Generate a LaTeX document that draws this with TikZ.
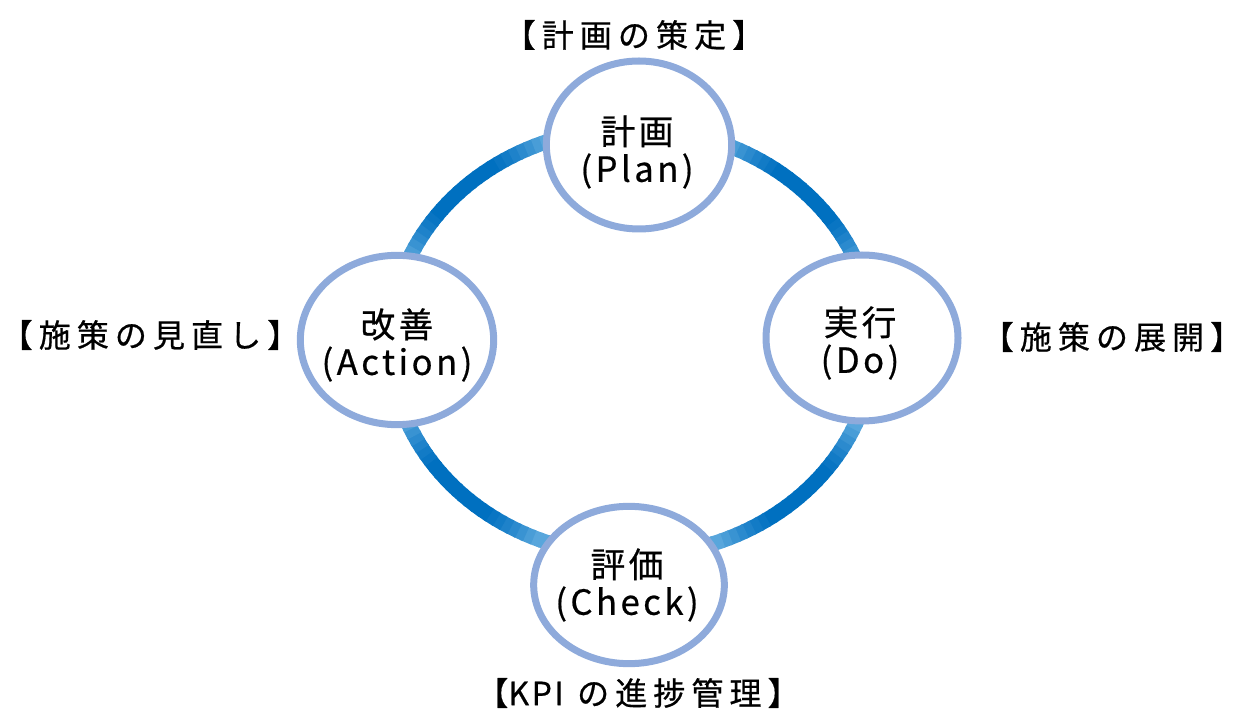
\documentclass[tikz,border=0pt]{standalone}
\usepackage{fontspec}
\newfontfamily\cjkin[LetterSpace=10,FakeBold=0.6]{Noto Sans CJK JP}
\newfontfamily\cjkout[LetterSpace=19,FakeBold=0.6]{Noto Sans CJK JP}
\newfontfamily\cjkplain[LetterSpace=8,FakeBold=0.6]{Noto Sans CJK JP}
\usetikzlibrary{shapes.geometric}
\definecolor{ringdark}{RGB}{0,112,192}
\definecolor{ringlight}{RGB}{88,166,220}
\definecolor{phaseline}{RGB}{142,170,219}
\begin{document}
\begin{tikzpicture}[x=0.75pt,y=-0.75pt,
  phase/.style={ellipse, draw=phaseline, line width=5.25pt, fill=white, inner sep=0pt},
  phasetext/.style={align=center, font=\cjkin\fontsize{26}{28}\selectfont, inner sep=0pt},
  stage/.style={font=\cjkout\fontsize{24}{28}\selectfont, inner sep=0pt},
  ringseg/.style={line width=11.25pt}]
\useasboundingbox (0,0) rectangle (1241,712);
\coordinate (ring) at (632,342);
\foreach \a in {0,2,...,358}{
  \pgfmathtruncatemacro\m{max(0,min(100,(abs(sin(2*\a))-0.7)*400))}
  \draw[ringseg, draw=ringdark!\m!ringlight] plot[domain=\a:\a+2.6, samples=4] ({632+242*cos(\x)},{342+214*sin(\x)});
}
\node[phase, minimum width=139pt, minimum height=126pt] (plan) at (639,145) {};
\node[phasetext] (planT) at (637,152) {計画\\(Plan)};
\node[phase, minimum width=144pt, minimum height=124.5pt] (do) at (862,338) {};
\node[phasetext] (doT) at (860,343) {実行\\(Do)};
\node[phase, minimum width=145pt, minimum height=127pt] (act) at (397,340) {};
\node[phasetext] (actT) at (397,345) {改善\\(Action)};
\node[phase, minimum width=143pt, minimum height=118pt] (check) at (629,585) {};
\node[phasetext] (checkT) at (627,585) {評価\\(Check)};
\node[stage] (planL) at (634,35) {【計画の策定】};
\node[stage] (doL) at (1112,337) {【施策の展開】};
\node[stage] (actL) at (150,335) {【施策の見直し】};
\node[stage] (checkL) at (638,693) {【{\cjkplain KPI}\hspace{10pt}の進捗管理】};
\end{tikzpicture}
\end{document}
